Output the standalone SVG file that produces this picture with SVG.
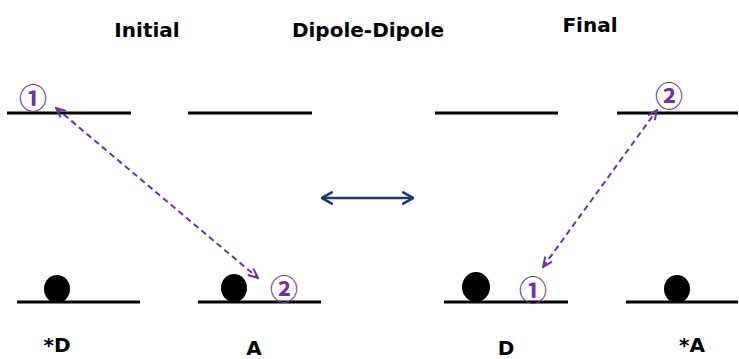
<svg xmlns="http://www.w3.org/2000/svg" width="739" height="359" viewBox="0 0 739 359">
<style>
.lvl{stroke:#000;stroke-width:3;fill:none}
.dot{fill:#000}
.lbl{font-family:"DejaVu Sans",sans-serif;font-weight:bold;font-size:20px;fill:#000;text-anchor:middle}
.num{font-family:"Noto Sans CJK JP",sans-serif;font-weight:bold;font-size:28px;fill:#7030A0;text-anchor:middle;dominant-baseline:central}
.dash{stroke:#7030A0;stroke-width:2;stroke-dasharray:6,4;fill:none;marker-start:url(#pa);marker-end:url(#pa)}
.blue{stroke:#1F3470;stroke-width:2.5;fill:none;marker-start:url(#ba);marker-end:url(#ba)}
</style>
<defs>
<marker id="pa" viewBox="0 0 10 10" refX="9" refY="5" markerWidth="12" markerHeight="12" orient="auto-start-reverse" markerUnits="userSpaceOnUse">
<path d="M1,1.5 L9,5 L1,8.5" fill="none" stroke="#7030A0" stroke-width="1.6"/>
</marker>
<marker id="ba" viewBox="0 0 10 10" refX="9" refY="5" markerWidth="14" markerHeight="14" orient="auto-start-reverse" markerUnits="userSpaceOnUse">
<path d="M2,1 L9,5 L2,9" fill="none" stroke="#1F3470" stroke-width="1.8" stroke-linecap="round"/>
</marker>
</defs>
<g id="titles">
<text class="lbl" x="147" y="37">Initial</text>
<text class="lbl" x="368" y="37">Dipole-Dipole</text>
<text class="lbl" x="590" y="32">Final</text>
</g>
<g id="node-D-star">
<line class="lvl" x1="7" y1="113" x2="131" y2="113"/>
<line class="lvl" x1="17" y1="302" x2="140" y2="302"/>
<ellipse class="dot" cx="57" cy="289" rx="13" ry="14"/>
<text class="num" x="33" y="97">①</text>
<text class="lbl" x="57" y="352">*D</text>
</g>
<g id="node-A">
<line class="lvl" x1="188" y1="113" x2="312" y2="113"/>
<line class="lvl" x1="198" y1="302" x2="321" y2="302"/>
<ellipse class="dot" cx="234" cy="288" rx="13" ry="14"/>
<text class="num" x="284" y="288">②</text>
<text class="lbl" x="254" y="355">A</text>
</g>
<g id="node-D">
<line class="lvl" x1="435" y1="113" x2="558" y2="113"/>
<line class="lvl" x1="444" y1="302" x2="568" y2="302"/>
<ellipse class="dot" cx="476" cy="287" rx="14" ry="15"/>
<text class="num" x="533" y="289">①</text>
<text class="lbl" x="506" y="355">D</text>
</g>
<g id="node-A-star">
<line class="lvl" x1="617" y1="113" x2="738" y2="113"/>
<line class="lvl" x1="626" y1="302" x2="738" y2="302"/>
<ellipse class="dot" cx="677" cy="289" rx="13" ry="14"/>
<text class="num" x="669" y="95">②</text>
<text class="lbl" x="692" y="352">*A</text>
</g>
<g id="connectors">
<line class="dash" x1="56" y1="108" x2="258" y2="278"/>
<line class="dash" x1="543" y1="267" x2="657" y2="110"/>
<line class="blue" x1="322" y1="198" x2="413" y2="198"/>
</g>
</svg>
